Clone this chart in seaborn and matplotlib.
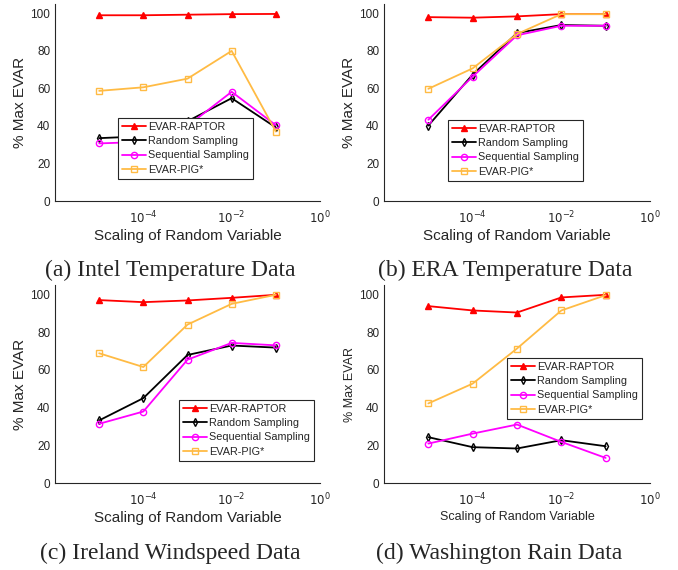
import numpy as np
import pandas as pd
import seaborn as sns
import matplotlib.pyplot as plt

# scaling values on the x axis
scales = [1e-5, 1e-4, 1e-3, 1e-2, 1e-1]
methods = ["EVAR-RAPTOR", "Random Sampling", "Sequential Sampling", "EVAR-PIG*"]

# (a) Intel temperature
intel_raptor = [99.0, 99.0, 99.3, 99.6, 99.7]
intel_random = [33.5, 34.5, 42.5, 54.8, 39.2]
intel_seq = [30.7, 31.5, 40.0, 58.2, 40.4]
intel_pig = [58.7, 60.6, 65.2, 80.0, 37.0]

# (b) ERA temperature
era_raptor = [98.0, 97.7, 98.4, 99.6, 99.6]
era_random = [40.2, 67.4, 89.5, 93.8, 93.4]
era_seq = [43.3, 66.3, 88.3, 93.4, 93.4]
era_pig = [59.8, 70.7, 89.0, 99.6, 99.6]

# (c) Ireland windspeed
ire_raptor = [97.0, 95.9, 96.8, 98.2, 99.8]
ire_random = [33.2, 45.0, 67.9, 72.9, 71.8]
ire_seq = [31.4, 37.9, 65.4, 74.3, 73.0]
ire_pig = [68.8, 61.5, 84.0, 95.0, 99.8]

# (d) Washington rain
wash_raptor = [93.8, 91.5, 90.4, 98.4, 99.8]
wash_random = [24.3, 19.0, 18.3, 22.7, 19.5]
wash_seq = [20.9, 26.2, 31.0, 21.8, 13.3]
wash_pig = [42.2, 52.7, 71.3, 91.5, 99.6]

titles = ["(a) Intel Temperature Data", "(b) ERA Temperature Data",
          "(c) Ireland Windspeed Data", "(d) Washington Rain Data"]
panels = [
    [intel_raptor, intel_random, intel_seq, intel_pig],
    [era_raptor, era_random, era_seq, era_pig],
    [ire_raptor, ire_random, ire_seq, ire_pig],
    [wash_raptor, wash_random, wash_seq, wash_pig],
]

sns.set_style("white")
plt.rcParams["font.family"] = ["Liberation Sans", "DejaVu Sans"]

palette = {"EVAR-RAPTOR": "#FF0000", "Random Sampling": "#000000",
           "Sequential Sampling": "#FF00FF", "EVAR-PIG*": "#FFBB44"}
markers = {"EVAR-RAPTOR": "^", "Random Sampling": "d",
           "Sequential Sampling": "o", "EVAR-PIG*": "s"}

W, H = 678, 570
fig = plt.figure(figsize=(W / 100, H / 100), dpi=100)

# axes boxes in pixels: left, top, right, bottom
boxes = [(55, 4, 320, 201), (384, 4, 650, 201),
         (55, 285, 320, 483), (384, 285, 650, 483)]
# legend upper-left corners in pixels
legpos = [(118, 118), (448, 120), (179, 400), (507, 358)]
title_x = [170, 505, 170, 499]
title_y = [270, 270, 553, 553]
xl_size = [11, 11, 11, 9]
yl_size = [11, 11, 11, 9]

for i in range(4):
    l, t, r, b = boxes[i]
    ax = fig.add_axes([l / W, 1 - b / H, (r - l) / W, (b - t) / H])
    rows = []
    for m, vals in zip(methods, panels[i]):
        for s, v in zip(scales, vals):
            rows.append({"scale": s, "value": v, "method": m})
    df = pd.DataFrame(rows)
    for m in methods:
        sub = df[df["method"] == m]
        filled = m == "EVAR-RAPTOR"
        sns.lineplot(data=sub, x="scale", y="value", ax=ax, color=palette[m],
                     marker=markers[m], markersize=4.5 if m != "Random Sampling" else 4,
                     markerfacecolor=palette[m] if filled else "none",
                     markeredgecolor=palette[m], markeredgewidth=1.0,
                     linewidth=1.3, label=m)
    ax.set_xscale("log")
    ax.set_xlim(1e-6, 1)
    ax.set_ylim(0, 105)
    ax.set_xticks([1e-4, 1e-2, 1])
    ax.set_xticklabels(["$10^{-4}$", "$10^{-2}$", "$10^{0}$"])
    ax.minorticks_off()
    ax.set_yticks([0, 20, 40, 60, 80, 100])
    ax.tick_params(direction="in", length=3, labelsize=8.5, colors="#262626",
                   width=0.8)
    ax.tick_params(axis="x", pad=6)
    for sp in ["top", "right"]:
        ax.spines[sp].set_visible(False)
    for sp in ["left", "bottom"]:
        ax.spines[sp].set_color("#262626")
        ax.spines[sp].set_linewidth(0.8)
    ax.set_xlabel("Scaling of Random Variable", fontsize=xl_size[i],
                  color="#262626", labelpad=2)
    ax.set_ylabel("% Max EVAR", fontsize=yl_size[i], color="#262626",
                  labelpad=2)
    lx, ly = legpos[i]
    leg = ax.legend(loc="upper left", bbox_to_anchor=(lx / W, 1 - ly / H),
                    bbox_transform=fig.transFigure, fontsize=7.8, frameon=True,
                    fancybox=False, edgecolor="#262626", framealpha=1,
                    handlelength=2.2, handletextpad=0.25, borderpad=0.35,
                    labelspacing=0.4, borderaxespad=0)
    leg.get_frame().set_linewidth(0.8)
    fig.text(title_x[i] / W, 1 - title_y[i] / H, titles[i], ha="center",
             va="center", fontsize=17, family="Liberation Serif")

fig.savefig("out.png", dpi=100)
